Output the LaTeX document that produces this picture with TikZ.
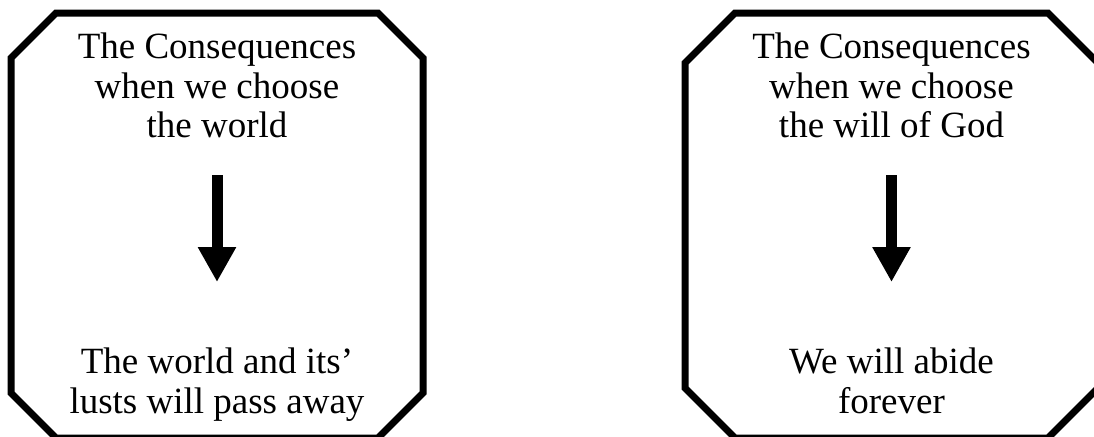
\documentclass[tikz,border=0pt]{standalone}
\usepackage{fontspec}
\setmainfont{Liberation Serif}
\usetikzlibrary{arrows.meta}

\begin{document}
\begin{tikzpicture}[
        x=0.5pt, y=-0.5pt,
        font=\fontsize{18.5}{19.75}\selectfont,
        frame/.style={draw, line width=3.5pt, line join=miter},
        txt/.style={align=center, inner sep=0pt, outer sep=0pt, anchor=north},
        arr/.style={-{Triangle[length=17.5pt, width=18pt]}, line width=5.5pt,
                    shorten <=18.5pt, shorten >=33pt}
    ]
    \useasboundingbox (0,0) rectangle (1094,436);

    % left: choosing the world
    \draw[frame] (11,58) -- (56,13) -- (378,13) -- (423,58) -- (423,393)
        -- (378,438) -- (56,438) -- (11,393) -- cycle;
    \node[txt] (topL) at (217,33) {The Consequences\\ when we choose\\ the world};
    \node[txt] (botL) at (217,348) {The world and its’\\ lusts will pass away};
    \draw[arr] (topL) -- (botL);

    % right: choosing the will of God
    \draw[frame] (685,63) -- (735,13) -- (1048,13) -- (1098,63) -- (1098,388)
        -- (1048,438) -- (735,438) -- (685,388) -- cycle;
    \node[txt] (topR) at (891.5,33) {The Consequences\\ when we choose\\ the will of God};
    \node[txt] (botR) at (891.5,348) {We will abide\\ forever};
    \draw[arr] (topR) -- (botR);
\end{tikzpicture}
\end{document}
